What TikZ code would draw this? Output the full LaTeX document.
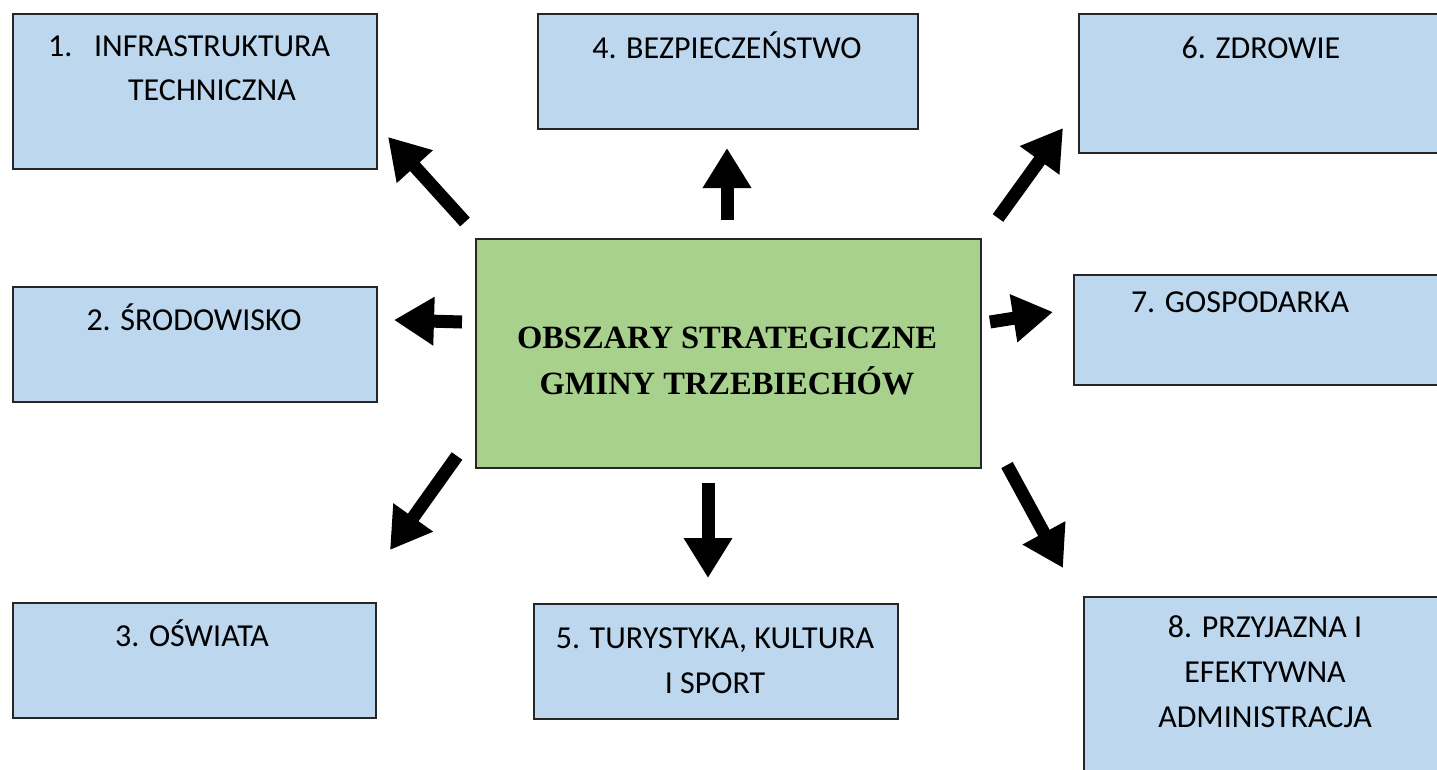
\documentclass[tikz,border=0pt]{standalone}
\usepackage{fontspec}
\setmainfont{Carlito}
\newfontfamily\titlefont{Liberation Serif}
\usetikzlibrary{arrows.meta}
\definecolor{boxblue}{HTML}{BDD7EE}
\definecolor{boxgreen}{HTML}{A9D18E}
\begin{document}
\begin{tikzpicture}[x=1pt,y=-1pt,
  bluebox/.style={draw=black!85,line width=2pt,fill=boxblue,rectangle,anchor=north west,inner sep=0pt},
  greenbox/.style={draw=black!85,line width=2pt,fill=boxgreen,rectangle,anchor=north west,inner sep=0pt},
  lbl/.style={anchor=base,inner sep=0pt,font=\fontsize{32}{38}\selectfont},
  ttl/.style={anchor=base,inner sep=0pt,font=\titlefont\bfseries\fontsize{32.5}{40}\selectfont},
  bigarrow/.style={line width=13pt,-{Triangle[width=46pt,length=40pt]}}]
\useasboundingbox (0,0) rectangle (1437,769);
\clip (0,0) rectangle (1437,769);
% boxes
\node[bluebox,minimum width=364pt,minimum height=155pt] (b1) at (12,13) {};
\node[bluebox,minimum width=380pt,minimum height=115pt] (b4) at (537,13) {};
\node[bluebox,minimum width=380pt,minimum height=139pt] (b6) at (1078,13) {};
\node[bluebox,minimum width=364pt,minimum height=115pt] (b2) at (12,286) {};
\node[bluebox,minimum width=380pt,minimum height=110pt] (b7) at (1073,274) {};
\node[bluebox,minimum width=363pt,minimum height=115pt] (b3) at (12,602) {};
\node[bluebox,minimum width=364pt,minimum height=115pt] (b5) at (533,603) {};
\node[bluebox,minimum width=380pt,minimum height=200pt] (b8) at (1083,596) {};
\node[greenbox,minimum width=505pt,minimum height=229pt] (c) at (475,238) {};
% texts
\node[lbl,anchor=base west] (t1n) at (48,56) {1.};
\node[lbl] (t1a) at (212,56) {INFRASTRUKTURA};
\node[lbl] (t1b) at (212,100) {TECHNICZNA};
\node[lbl] (t4) at (727,58) {4. BEZPIECZEŃSTWO};
\node[lbl] (t6) at (1261,58) {6. ZDROWIE};
\node[lbl] (t2) at (194,330) {2. ŚRODOWISKO};
\node[lbl] (t7) at (1240,312) {7. GOSPODARKA};
\node[lbl] (t3) at (192,646) {3. OŚWIATA};
\node[lbl] (t5a) at (715,648) {5. TURYSTYKA, KULTURA};
\node[lbl] (t5b) at (715,693) {I SPORT};
\node[lbl] (t8a) at (1265,637) {8. PRZYJAZNA I};
\node[lbl] (t8b) at (1265,682) {EFEKTYWNA};
\node[lbl] (t8c) at (1265,727) {ADMINISTRACJA};
\node[ttl] (tc1) at (727,348) {OBSZARY STRATEGICZNE};
\node[ttl] (tc2) at (727,394) {GMINY TRZEBIECHÓW};
% arrow endpoints
\coordinate (a1s) at (465,222); \coordinate (a1e) at (388,137);
\coordinate (a4s) at (727,220); \coordinate (a4e) at (727,148);
\coordinate (a6s) at (998,218); \coordinate (a6e) at (1063,128);
\coordinate (a2s) at (462,322); \coordinate (a2e) at (394,320);
\coordinate (a7s) at (990,322); \coordinate (a7e) at (1053,312);
\coordinate (a3s) at (457,456); \coordinate (a3e) at (390,550);
\coordinate (a5s) at (708,483); \coordinate (a5e) at (708,578);
\coordinate (a8s) at (1007,465); \coordinate (a8e) at (1063,568);
\foreach \i in {1,...,8}{\draw[bigarrow] (a\i s) -- (a\i e);}
\end{tikzpicture}
\end{document}
